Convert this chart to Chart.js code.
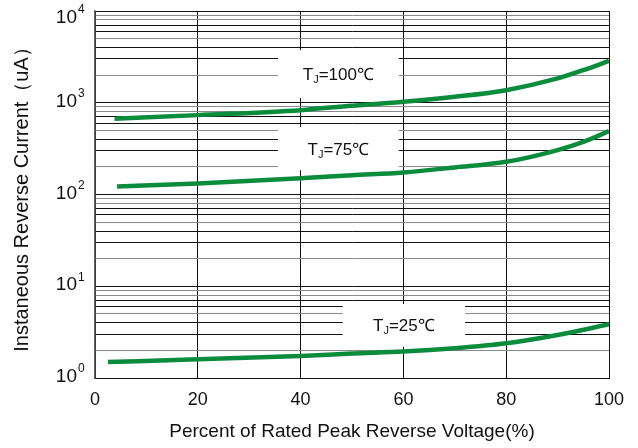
<!DOCTYPE html>
<html>
<head>
<meta charset="utf-8">
<script src="https://cdn.jsdelivr.net/npm/chart.js@4.4.1/dist/chart.umd.min.js"></script>
<style>
  html, body { margin: 0; padding: 0; background: #fff; }
  #wrap { width: 638px; height: 448px; }
</style>
</head>
<body>
<div id="wrap"><canvas id="c" width="638" height="448"></canvas></div>
<script>
// reverse leakage vs. % of rated voltage, three junction temps
const xTicks = [0, 20, 40, 60, 80, 100];
const yDecades = [1, 10, 100, 1000, 10000];
const yExponents = ["0", "1", "2", "3", "4"];

const x100 = [3.8, 20, 40, 50, 60, 70, 80, 90, 95, 100];
const y100 = [668, 733, 830, 930, 1023, 1160, 1371, 1840, 2265, 2860];

const x75 = [4.3, 20, 40, 50, 60, 70, 80, 90, 95, 100];
const y75 = [122, 132, 150, 162, 174, 197, 227, 305, 375, 490];

const x25 = [2.5, 20, 40, 50, 60, 70, 80, 90, 100];
const y25 = [1.49, 1.60, 1.74, 1.85, 1.94, 2.11, 2.39, 2.94, 3.85];

const curveTemps = ["100", "75", "25"];

// white label boxes (data units) that blank out the grid behind the temps
const boxes = [
  { temp: "100", x0: 35.6, x1: 59.1, yTop: 3740, yBot: 1125 },
  { temp: "75", x0: 35.6, x1: 59.1, yTop: 542, yBot: 184 },
  { temp: "25", x0: 48.2, x1: 72.0, yTop: 6.4, yBot: 2.18 },
];

const FONT = '"Liberation Sans", Arial, sans-serif';
const GREEN = "#0a8c3c";

function toPoints(xs, ys) {
  return xs.map((x, i) => ({ x, y: ys[i] }));
}

const labelBoxes = {
  id: "labelBoxes",
  beforeDatasetsDraw(chart) {
    const { ctx, scales } = chart;
    const xs = scales.x, ys = scales.y;
    ctx.save();
    boxes.forEach((b) => {
      const l = xs.getPixelForValue(b.x0), r = xs.getPixelForValue(b.x1);
      const t = ys.getPixelForValue(b.yTop), bo = ys.getPixelForValue(b.yBot);
      ctx.fillStyle = "#fff";
      ctx.fillRect(l, t, r - l, bo - t);

      // T, subscript J, then =xx℃
      const big = "17px " + FONT, small = "11px " + FONT;
      const rest = "=" + b.temp + "\u2103";
      ctx.font = big;
      const wT = ctx.measureText("T").width;
      const wRest = ctx.measureText(rest).width;
      ctx.font = small;
      const wJ = ctx.measureText("J").width;
      const total = wT + wJ + wRest;
      let x = (l + r) / 2 - total / 2;
      const base = (t + bo) / 2 + 6;
      ctx.fillStyle = "#111";
      ctx.textBaseline = "alphabetic";
      ctx.textAlign = "left";
      ctx.font = big;
      ctx.fillText("T", x, base);
      x += wT;
      ctx.font = small;
      ctx.fillText("J", x, base + 3);
      x += wJ;
      ctx.font = big;
      ctx.fillText(rest, x, base);
    });
    ctx.restore();
  },
};

// y labels drawn as 10 with a raised exponent
const powerLabels = {
  id: "powerLabels",
  afterDraw(chart) {
    const { ctx, chartArea } = chart;
    const ys = chart.scales.y;
    const right = ys.right - 18;
    ctx.save();
    ctx.fillStyle = "#111";
    yDecades.forEach((d, i) => {
      // top label sits a little lower so it stays inside the canvas
      const y = Math.max(ys.getPixelForValue(d) - 1, chartArea.top + 7);
      ctx.textBaseline = "middle";
      ctx.textAlign = "right";
      ctx.font = "19px " + FONT;
      ctx.fillText("10", right, y);
      ctx.textAlign = "left";
      ctx.font = "12px " + FONT;
      ctx.fillText(yExponents[i], right + 1, y - 8);
    });
    ctx.restore();
  },
};

function gridColor(ctx) {
  const v = ctx.tick ? ctx.tick.value : 1;
  const m = Math.round(v / Math.pow(10, Math.floor(Math.log10(v) + 1e-9)));
  return [2, 5, 8, 9].includes(m) ? "#8a8a8a" : "#111";
}

const series = [toPoints(x100, y100), toPoints(x75, y75), toPoints(x25, y25)];

new Chart(document.getElementById("c"), {
  type: "line",
  data: {
    datasets: series.map((pts, i) => ({
      label: "TJ=" + curveTemps[i],
      data: pts,
      borderColor: GREEN,
      borderWidth: 4.5,
      pointRadius: 0,
      fill: false,
      cubicInterpolationMode: "monotone",
    })),
  },
  options: {
    responsive: false,
    animation: false,
    layout: { padding: { top: 11, right: 29, left: 0, bottom: 0 } },
    plugins: { legend: { display: false }, tooltip: { enabled: false } },
    scales: {
      x: {
        type: "linear",
        min: 0,
        max: 100,
        afterBuildTicks: (s) => { s.ticks = xTicks.map((v) => ({ value: v })); },
        afterFit: (s) => { s.height = 70; },
        grid: { color: "#111", lineWidth: 1, drawTicks: false },
        border: { color: "#111", width: 1 },
        ticks: { color: "#111", font: { family: FONT, size: 18 }, padding: 11 },
        title: {
          display: true,
          text: "Percent of Rated Peak Reverse Voltage(%)",
          color: "#111",
          font: { family: FONT, size: 19 },
          padding: { top: 0, bottom: 5 },
        },
      },
      y: {
        type: "logarithmic",
        min: 1,
        max: 10000,
        afterBuildTicks: (s) => {
          const t = [];
          yDecades.forEach((d) => {
            for (let k = 1; k <= 9; k++) {
              const v = d * k;
              if (v <= 10000) t.push({ value: v });
            }
          });
          s.ticks = t;
        },
        afterFit: (s) => { s.width = 95; },
        grid: { color: gridColor, lineWidth: 1, drawTicks: false },
        border: { color: "#666", width: 1.5 },
        ticks: { display: false },
        title: {
          display: true,
          text: "Instaneous Reverse Current\uff08uA\uff09",
          color: "#111",
          font: { family: FONT, size: 20 },
          padding: { top: 10, bottom: 0 },
        },
      },
    },
  },
  plugins: [labelBoxes, powerLabels],
});
</script>
</body>
</html>
